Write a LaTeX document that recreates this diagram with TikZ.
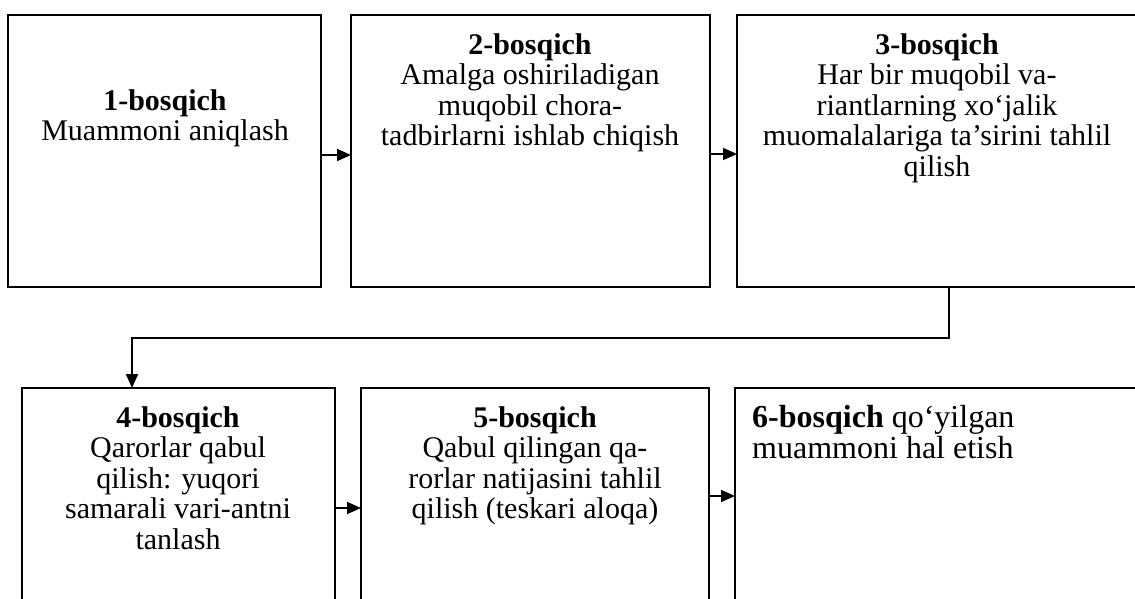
\documentclass[tikz,border=0pt]{standalone}
\usepackage{fontspec}
\setmainfont{Liberation Serif}
\usetikzlibrary{arrows.meta}
\begin{document}
\begin{tikzpicture}[x=1pt,y=-1pt,
  stepbox/.style={draw=black, line width=1.7pt},
  txt/.style={anchor=north, align=center, inner sep=0pt, font=\fontsize{30}{30.6}\selectfont},
  conn/.style={line width=1.7pt, -{Triangle[length=14pt,width=12pt]}}]
\useasboundingbox (0,0) rectangle (1135,598);
\clip (0,0) rectangle (1135,598);
% boxes
\draw[stepbox] (8,15) rectangle (321,287);
\draw[stepbox] (351,15) rectangle (710,287);
\draw[stepbox] (737,15) rectangle (1150,287);
\draw[stepbox] (22,388) rectangle (335,620);
\draw[stepbox] (361,388) rectangle (709,620);
\draw[stepbox] (735,388) rectangle (1150,620);
% named anchor coordinates
\coordinate (b1e) at (321,155);
\coordinate (b2w) at (351,155);
\coordinate (b2e) at (710,154);
\coordinate (b3w) at (737,154);
\coordinate (b3s) at (949,287);
\coordinate (b4n) at (132,388);
\coordinate (b4e) at (335,508);
\coordinate (b5w) at (361,508);
\coordinate (b5e) at (709,496);
\coordinate (b6w) at (735,496);
% texts
\node[txt] (t1) at (165,89) {\textbf{1-bosqich}\\Muammoni aniqlash};
\node[txt] (t2) at (530,33) {\textbf{2-bosqich}\\Amalga oshiriladigan\\muqobil chora-\\tadbirlarni ishlab chiqish};
\node[txt] (t3) at (937,33) {\textbf{3-bosqich}\\Har bir muqobil va-\\riantlarning xo‘jalik\\muomalalariga ta’sirini tahlil\\qilish};
\node[txt] (t4) at (178,406) {\textbf{4-bosqich}\\Qarorlar qabul\\qilish: yuqori\\samarali vari-antni\\tanlash};
\node[txt] (t5) at (535,406) {\textbf{5-bosqich}\\Qabul qilingan qa-\\rorlar natijasini tahlil\\qilish (teskari aloqa)};
\node[txt, anchor=north west, align=left, font=\fontsize{32}{31}\selectfont] (t6) at (752,405) {\textbf{6-bosqich} qo‘yilgan\\muammoni hal etish};
% connectors
\draw[conn] (b1e) -- (b2w);
\draw[conn] (b2e) -- (b3w);
\draw[conn] (b3s) -- (949,338) -- (132,338) -- (b4n);
\draw[conn] (b4e) -- (b5w);
\draw[conn] (b5e) -- (b6w);
\end{tikzpicture}
\end{document}
